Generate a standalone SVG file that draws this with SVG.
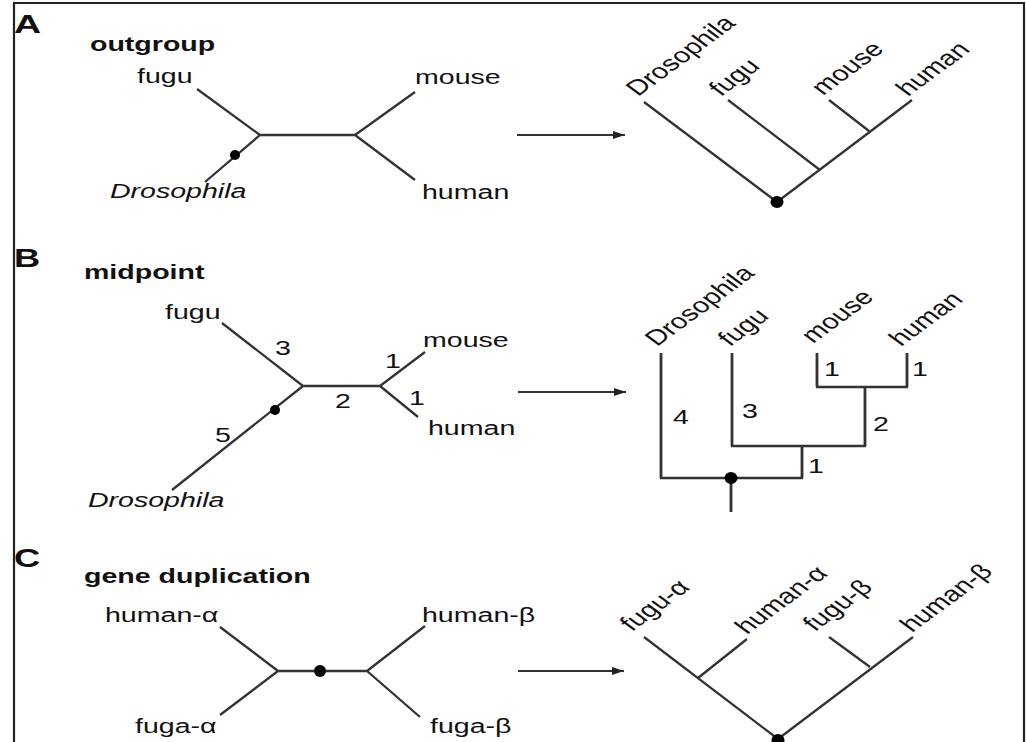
<svg xmlns="http://www.w3.org/2000/svg" width="1026" height="742" viewBox="0 0 1026 742">
<defs>
<style>
.t{font-family:"Liberation Sans",Arial,Helvetica,sans-serif;font-size:21px;fill:#111}
.r{font-size:21.5px}
.b{font-weight:bold}
.i{font-style:italic}
.L{font-family:"Liberation Sans",Arial,Helvetica,sans-serif;font-size:25px;font-weight:bold;fill:#111}
.ln{stroke:#333;stroke-width:2.3;fill:none;stroke-linecap:butt}
.v{stroke:#333;stroke-width:2.8;fill:none}
.dot{fill:#000}
.arr{stroke:#333;stroke-width:2.1;fill:none;marker-end:url(#ah)}
</style>
<marker id="ah" markerUnits="userSpaceOnUse" markerWidth="14" markerHeight="10" refX="12" refY="4" orient="auto">
<path d="M0,0 L12,4 L0,8 z" fill="#222"/>
</marker>
</defs>
<rect width="1026" height="742" fill="#fff"/>
<path d="M14,742 V3 H1024 V742" fill="none" stroke="#222" stroke-width="2.2"/>

<g id="panel-labels">
<text class="L" transform="translate(14,33) scale(1.5,1)">A</text>
<text class="L" transform="translate(14,267) scale(1.45,1)">B</text>
<text class="L" transform="translate(14,567) scale(1.45,1)">C</text>
<text class="t b" transform="translate(90,51) scale(1.36,1)">outgroup</text>
<text class="t b" transform="translate(84,279) scale(1.36,1)">midpoint</text>
<text class="t b" transform="translate(84,583) scale(1.36,1)">gene duplication</text>
</g>

<g id="connectors">
<!-- A unrooted -->
<path class="ln" d="M197,89 L260,135 L355,135 L415,92 M260,135 L205,182 M355,135 L415,180"/>
<!-- A rooted -->
<path class="ln" d="M644,102 L777,202 L912,100 M728,100 L820,170 M829,100 L869,131"/>
<!-- B unrooted -->
<path class="ln" d="M222,323 L303,386 L380,386 L425,352 M303,386 L172,490 M380,386 L418,417"/>
<!-- B rooted -->
<path class="v" d="M661,353 V478 M732,353 V446 M802,446 V478 M865,387 V446 M817,353 V387 M907,353 V387 M731,478 V512"/>
<path class="ln" d="M660,478 H803 M731,446 H866 M816,387 H908"/>
<!-- C unrooted -->
<path class="ln" d="M220,627 L278,671 L367,671 L425,626 M278,671 L220,715 M367,671 L420,717"/>
<!-- C rooted -->
<path class="ln" d="M644,637 L778,739 L913,637 M698,678 L747,639 M829,637 L870,667"/>
<!-- arrows -->
<line class="arr" x1="517" y1="135" x2="625" y2="135"/>
<line class="arr" x1="518" y1="392" x2="626" y2="392"/>
<line class="arr" x1="518" y1="671" x2="624" y2="671"/>
</g>

<g id="tree-A-unrooted">
<text class="t" transform="translate(137,83) scale(1.36,1)">fugu</text>
<text class="t" transform="translate(415,84) scale(1.36,1)">mouse</text>
<text class="t i" transform="translate(110,198) scale(1.36,1)">Drosophila</text>
<text class="t" transform="translate(422,199) scale(1.36,1)">human</text>
<circle class="dot" cx="235" cy="155" r="5"/>
</g>

<g id="tree-A-rooted">
<text class="t r" transform="translate(638,97) scale(1.36,1) rotate(-45)">Drosophila</text>
<text class="t r" transform="translate(721,97) scale(1.36,1) rotate(-45)">fugu</text>
<text class="t r" transform="translate(823,96) scale(1.36,1) rotate(-45)">mouse</text>
<text class="t r" transform="translate(908,97) scale(1.36,1) rotate(-45)">human</text>
<ellipse class="dot" cx="777" cy="202" rx="6.5" ry="6"/>
</g>

<g id="tree-B-unrooted">
<text class="t" transform="translate(165,319) scale(1.36,1)">fugu</text>
<text class="t" transform="translate(275,355) scale(1.36,1)">3</text>
<text class="t" transform="translate(423,347) scale(1.36,1)">mouse</text>
<text class="t" transform="translate(385,368) scale(1.36,1)">1</text>
<text class="t" transform="translate(409,405) scale(1.36,1)">1</text>
<text class="t" transform="translate(335,408) scale(1.36,1)">2</text>
<text class="t" transform="translate(428,435) scale(1.36,1)">human</text>
<text class="t" transform="translate(215,442) scale(1.36,1)">5</text>
<text class="t i" transform="translate(88,507) scale(1.36,1)">Drosophila</text>
<circle class="dot" cx="275" cy="410" r="5"/>
</g>

<g id="tree-B-rooted">
<text class="t r" transform="translate(657,347) scale(1.36,1) rotate(-45)">Drosophila</text>
<text class="t r" transform="translate(730,347) scale(1.36,1) rotate(-45)">fugu</text>
<text class="t r" transform="translate(813,344) scale(1.36,1) rotate(-45)">mouse</text>
<text class="t r" transform="translate(901,347) scale(1.36,1) rotate(-45)">human</text>
<text class="t" transform="translate(673,424) scale(1.36,1)">4</text>
<text class="t" transform="translate(742,418) scale(1.36,1)">3</text>
<text class="t" transform="translate(824,376) scale(1.36,1)">1</text>
<text class="t" transform="translate(912,376) scale(1.36,1)">1</text>
<text class="t" transform="translate(873,431) scale(1.36,1)">2</text>
<text class="t" transform="translate(808,473) scale(1.36,1)">1</text>
<ellipse class="dot" cx="731" cy="478" rx="6.5" ry="6"/>
</g>

<g id="tree-C-unrooted">
<text class="t" transform="translate(105,622) scale(1.36,1)">human-α</text>
<text class="t" transform="translate(135,733) scale(1.36,1)">fuga-α</text>
<text class="t" transform="translate(422,622) scale(1.36,1)">human-β</text>
<text class="t" transform="translate(430,733) scale(1.36,1)">fuga-β</text>
<circle class="dot" cx="320" cy="671" r="6"/>
</g>

<g id="tree-C-rooted">
<text class="t r" transform="translate(632,632) scale(1.36,1) rotate(-45)">fugu-α</text>
<text class="t r" transform="translate(747,635) scale(1.36,1) rotate(-45)">human-α</text>
<text class="t r" transform="translate(815,632) scale(1.36,1) rotate(-45)">fugu-β</text>
<text class="t r" transform="translate(912,633) scale(1.36,1) rotate(-45)">human-β</text>
<ellipse class="dot" cx="778" cy="740" rx="6.5" ry="6"/>
</g>
</svg>
